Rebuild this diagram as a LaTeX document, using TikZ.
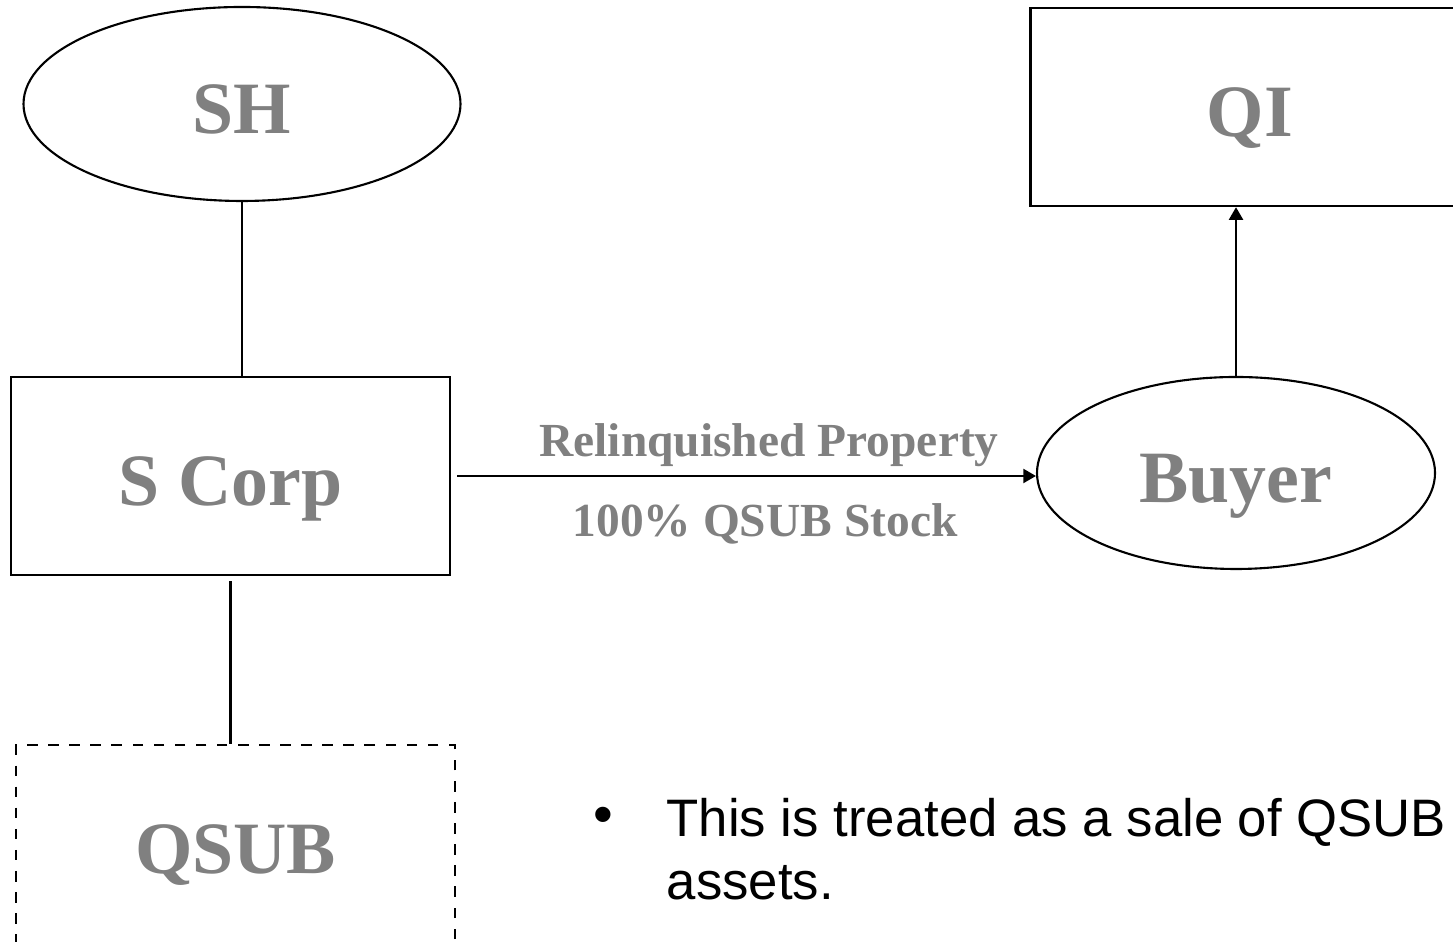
\documentclass[tikz,border=0pt]{standalone}
\usepackage{fontspec}
\setmainfont{Liberation Serif}
\newfontfamily\bulletfont{Liberation Sans}
\usetikzlibrary{arrows.meta,shapes.geometric}
\definecolor{labelgray}{HTML}{808080}
\begin{document}
\begin{tikzpicture}[
  every node/.style={align=center},
  ent/.style={rectangle, draw=black, line width=0.7pt, minimum width=4.39cm, minimum height=1.98cm, inner sep=0pt,
    font=\fontsize{21}{25}\selectfont\bfseries, text=labelgray, text height=20pt, text depth=3.2pt},
  own/.style={ellipse, draw=black, line width=0.6pt, inner sep=0pt,
    font=\fontsize{21}{25}\selectfont\bfseries, text=labelgray, text height=20pt, text depth=3.2pt},
  lbl/.style={font=\fontsize{13.5}{16}\selectfont\bfseries, text=labelgray, inner sep=0pt},
  tie/.style={draw=black, line width=0.6pt},
  flow/.style={draw=black, line width=0.6pt, -{Triangle[length=3.6pt, width=4pt]}}
]
\useasboundingbox (0, 0) rectangle (14.53, 9.42);

% entities
\node[own, minimum width=4.37cm, minimum height=1.94cm] (sh) at (2.42, 8.38) {SH};
\node[ent] (scorp) at (2.305, 4.66) {S Corp};
\node[own, minimum width=3.98cm, minimum height=1.92cm] (buyer) at (12.36, 4.69) {Buyer};
\node[ent] (qi) at (12.50, 8.35) {QI};
\node[ent, dashed] (qsub) at (2.355, 0.98) {QSUB};

% connectors
\draw[tie] (sh.south) -- (sh.south |- scorp.north);
\draw[tie, line width=1pt, shorten <=0.05cm] (scorp.south) -- (scorp.south |- qsub.north);
\draw[flow, shorten <=0.06cm] (scorp.east) -- (scorp.east -| buyer.west);
\draw[flow] (buyer.north) -- (buyer.north |- qi.south);

% transfer labels
\node[lbl] (relprop) at (7.69, 4.97) {Relinquished Property};
\node[lbl] (stock) at (7.65, 4.18) {100\% QSUB Stock};

% note
\node[font=\bulletfont\fontsize{16}{18}\selectfont, inner sep=0pt] (dot) at (6.03, 1.22) {•};
\node[font=\bulletfont\fontsize{15}{18.1}\selectfont, align=left, anchor=base west, inner sep=0pt] (note) at (6.66, 0.42)
  {This is treated as a sale of QSUB\\assets.};
\end{tikzpicture}
\end{document}
